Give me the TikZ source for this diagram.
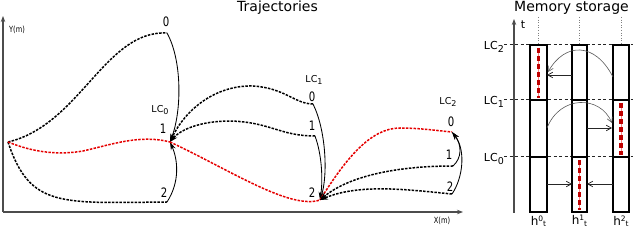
\documentclass[tikz,border=0pt]{standalone}
\usepackage{fontspec}
\setmainfont{DejaVu Sans}
\newfontfamily\condfont[FakeStretch=0.78]{DejaVu Sans}
\usetikzlibrary{arrows.meta}
\newcommand{\lcsub}[1]{\raisebox{-2pt}{\fontsize{8}{9}\selectfont #1}}
\newcommand{\mlcsub}[1]{\raisebox{-2.5pt}{\fontsize{9.5}{10}\selectfont #1}}
\newcommand{\hlab}[1]{h\raisebox{4pt}{\fontsize{7.5}{8}\selectfont #1}\raisebox{-1.5pt}{\fontsize{7.5}{8}\selectfont t}}
\begin{document}
\begin{tikzpicture}[x=1pt,y=-1pt,
  traj/.style={line width=1.5pt, dash pattern=on 2.5pt off 1.3pt},
  blk/.style={traj, black},
  redt/.style={traj, color=red!90!black},
  tip/.style={-{Stealth[length=8pt,width=5.5pt]}},
  link/.style={line width=0.85pt, black, -{Stealth[length=8pt,width=5pt]}},
  axis/.style={line width=1.1pt, black!70, -{Stealth[length=6pt,width=4.5pt]}},
  num/.style={font=\condfont\fontsize{13}{13}\selectfont, inner sep=0pt},
  lc/.style={font=\fontsize{9.5}{10}\selectfont, inner sep=0pt},
  mlc/.style={font=\fontsize{11}{12}\selectfont, inner sep=0pt},
  small/.style={font=\condfont\fontsize{8.5}{9}\selectfont, inner sep=0pt},
  title/.style={font=\fontsize{14}{16}\selectfont, inner sep=0pt, anchor=base},
  col/.style={line width=1.5pt, black, fill=white},
  divl/.style={line width=2pt, black},
  hdash/.style={line width=1pt, black!85, dash pattern=on 3pt off 2.5pt},
  vdot/.style={line width=0.6pt, black!50, dotted},
  mem/.style={line width=3.5pt, red!75!black, dash pattern=on 5pt off 3pt},
  memthin/.style={line width=0.5pt, red!50},
  marr/.style={line width=0.75pt, black!85, -{Straight Barb[length=5pt,width=5.5pt]}},
  mcurve/.style={line width=0.6pt, black!65, -{Straight Barb[length=5pt,width=5.5pt]}},
  hl/.style={font=\fontsize{12}{13}\selectfont, inner sep=0pt}
]
\useasboundingbox (0,0) rectangle (640,245);

% ---------------- Trajectories panel ----------------
\node[title] (t1) at (277.5,11.5) {Trajectories};

\coordinate (O) at (3,212);
\coordinate (Ytop) at (3,16);
\coordinate (Xend) at (463,212);
\draw[axis] (O) -- (Ytop);
\draw[axis] (O) -- (Xend);
\node[small] (ylab) at (17,30) {Y(m)};
\node[small] (xlab) at (442,221) {X(m)};

\coordinate (S) at (8,142);
\coordinate (A0) at (167,33);
\coordinate (A1) at (170,142);
\coordinate (A2) at (167,202);
\coordinate (B0) at (313,104);
\coordinate (B1) at (315,136);
\coordinate (B2) at (320,200);
\coordinate (C0) at (452,132);
\coordinate (C1) at (453,166);
\coordinate (C2) at (452,194);

% first stage
\draw[blk] (S) .. controls (80,125) and (105,30) .. (A0);
\draw[blk] (S) .. controls (30,208) and (60,203) .. (A2);
\draw[redt] (S) .. controls (35,153) and (60,155) .. (83,151) .. controls (110,145) and (140,134) .. (A1);
\draw[link] (A0) .. controls (182,60) and (182,110) .. (A1);
\draw[link] (A2) .. controls (180,182) and (178,160) .. (A1);

% second stage
\draw[blk,tip] (B0) .. controls (295,104) and (285,88) .. (253,86) .. controls (215,85) and (185,110) .. (A1);
\draw[blk,tip] (B1) .. controls (280,136) and (270,122) .. (230,121) .. controls (200,121) and (180,130) .. (A1);
\draw[redt] (A1) .. controls (230,170) and (290,210) .. (B2);
\draw[link] (B0) .. controls (326,130) and (328,175) .. (B2);
\draw[link] (B1) .. controls (322,155) and (323,180) .. (B2);

% third stage
\draw[redt] (B2) .. controls (345,160) and (370,128) .. (400,128) .. controls (420,128) and (440,131) .. (C0);
\draw[blk,tip] (C1) .. controls (400,166) and (350,175) .. (B2);
\draw[blk,tip] (C2) .. controls (410,190) and (360,183) .. (B2);
\draw[link] (C1) .. controls (462,158) and (462,145) .. (C0);
\draw[link] (C2) .. controls (463,178) and (466,150) .. (C0);

% labels
\node[num] (nA0) at (166,22) {0};
\node[num] (nA1) at (163,129) {1};
\node[num] (nA2) at (164,193) {2};
\node[lc] (lA) at (160,110) {LC\lcsub{0}};
\node[num] (nB0) at (312,97) {0};
\node[num] (nB1) at (312,126) {1};
\node[num] (nB2) at (312,193) {2};
\node[lc] (lB) at (314,80) {LC\lcsub{1}};
\node[num] (nC0) at (451,122) {0};
\node[num] (nC1) at (449,155) {1};
\node[num] (nC2) at (450,187) {2};
\node[lc] (lC) at (448,102) {LC\lcsub{2}};

% ---------------- Memory storage panel ----------------
\node[title] (t2) at (571.5,11.5) {Memory storage};

\coordinate (M0) at (514,213);
\coordinate (Mtop) at (514,19);
\draw[axis] (M0) -- (Mtop);
\node[mlc] (tl) at (523,25) {t};

\foreach \yy/\k in {45/2,100/1,157/0}{
  \draw[hdash] (504,\yy) -- (633,\yy);
  \node[mlc, anchor=east] (m\k) at (504,\yy+2) {LC\mlcsub{\k}};
}

% columns
\foreach \xl/\xr/\i in {530/547/0,572/587/1,613/629/2}{
  \draw[vdot] ({(\xl+\xr)/2},17) -- ({(\xl+\xr)/2},45);
  \draw[col] (\xl,45) rectangle (\xr,212);
  \draw[divl] (\xl,100) -- (\xr,100);
  \draw[divl] (\xl,157) -- (\xr,157);
  \node[hl] (h\i) at ({(\xl+\xr)/2},221) {\hlab{\i}};
}

% red stored segments
\draw[memthin] (538.5,48) -- (538.5,98);
\draw[mem] (538.5,48) -- (538.5,98);
\draw[memthin] (621,103) -- (621,155);
\draw[mem] (621,103) -- (621,155);
\draw[memthin] (579.5,160) -- (579.5,210);
\draw[mem] (579.5,160) -- (579.5,210);

% memory arrows
\coordinate (p0b) at (547,184);
\coordinate (p1bl) at (572,184);
\coordinate (p1br) at (587,184);
\coordinate (p2b) at (613,184);
\draw[marr] (p0b) -- (p1bl);
\draw[marr] (p2b) -- (p1br);

\coordinate (p1m) at (587,128);
\coordinate (p2m) at (612,128);
\coordinate (p0m) at (547,128);
\coordinate (p2mc) at (612,123);
\draw[marr] (p1m) -- (p2m);
\draw[mcurve] (p0m) .. controls (560,95) and (600,95) .. (p2mc);

\coordinate (p1t) at (572,75);
\coordinate (p0t) at (547,75);
\coordinate (p2t) at (613,77);
\coordinate (p0tc) at (548,72);
\draw[marr] (p1t) -- (p0t);
\draw[mcurve] (p2t) .. controls (595,42) and (565,42) .. (p0tc);
\end{tikzpicture}
\end{document}
